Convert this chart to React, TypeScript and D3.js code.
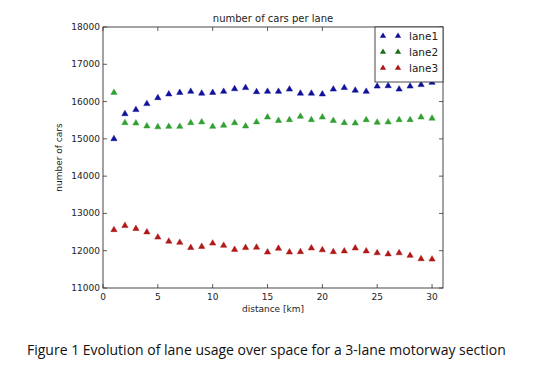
import React from "react";
import * as d3 from "d3";

const distances = d3.range(1, 31);
const lane1 = [15000, 15670, 15780, 15940, 16100, 16200, 16240, 16270, 16220, 16240, 16270, 16340, 16370, 16260, 16270, 16270, 16330, 16220, 16220, 16200, 16330, 16370, 16300, 16270, 16410, 16420, 16330, 16410, 16450, 16510];
const lane2 = [16240, 15430, 15420, 15340, 15320, 15330, 15330, 15430, 15450, 15330, 15360, 15430, 15340, 15450, 15580, 15490, 15510, 15600, 15510, 15580, 15490, 15430, 15420, 15510, 15440, 15450, 15510, 15510, 15580, 15550];
const lane3 = [12560, 12670, 12590, 12500, 12360, 12250, 12220, 12080, 12110, 12200, 12140, 12030, 12080, 12090, 11960, 12060, 11960, 11970, 12070, 12020, 11970, 11990, 12070, 11990, 11940, 11910, 11940, 11870, 11780, 11770];
const xTicks = [0, 5, 10, 15, 20, 25, 30];
const yTicks = [11000, 12000, 13000, 14000, 15000, 16000, 17000, 18000];
const seriesNames = ["lane1", "lane2", "lane3"];
const seriesColors = ["#10109a", "#30a030", "#b01818"];
const legendColors = ["#10109a", "#1e6e1e", "#b01818"];

export default function App() {
  const W = 548, H = 377;
  const left = 103, right = 443, top = 27, bottom = 288;
  const x = d3.scaleLinear().domain([0, 31]).range([left, right]);
  const y = d3.scaleLinear().domain([11000, 18000]).range([bottom, top]);
  const tri = d3.symbol().type(d3.symbolTriangle).size(17);
  const triPath = tri() as string;
  const series = [lane1, lane2, lane3];
  const font = "'DejaVu Sans', sans-serif";

  return (
    <svg width={W} height={H} style={{ position: "absolute", left: 0, top: 0, background: "#fff" }} fontFamily={font}>
      <rect x={0} y={0} width={W} height={H} fill="#fff" />
      {xTicks.map((t) => (
        <g key={"xt" + t}>
          <line x1={x(t)} x2={x(t)} y1={bottom} y2={bottom - 4} stroke="#333" strokeWidth={0.8} />
          <line x1={x(t)} x2={x(t)} y1={top} y2={top + 4} stroke="#333" strokeWidth={0.8} />
          <text x={x(t)} y={bottom + 12} fontSize={9} textAnchor="middle" fill="#222">{t}</text>
        </g>
      ))}
      {yTicks.map((t) => (
        <g key={"yt" + t}>
          <line x1={left} x2={left + 4} y1={y(t)} y2={y(t)} stroke="#333" strokeWidth={0.8} />
          <line x1={right} x2={right - 4} y1={y(t)} y2={y(t)} stroke="#333" strokeWidth={0.8} />
          <text x={left - 3} y={y(t) + 3} fontSize={9} textAnchor="end" fill="#222">{t}</text>
        </g>
      ))}
      {series.map((s, i) => (
        <g key={"s" + i}>
          {s.map((v, j) => (
            <path key={j} d={triPath} transform={`translate(${x(distances[j])},${y(v)})`} fill={seriesColors[i]} stroke={seriesColors[i]} strokeWidth={0.5} />
          ))}
        </g>
      ))}
      <rect x={left} y={top} width={right - left} height={bottom - top} fill="none" stroke="#333" strokeWidth={0.9} />
      <rect x={375} y={top} width={right - 375} height={55} fill="#fff" stroke="#333" strokeWidth={0.9} />
      {seriesNames.map((n, i) => (
        <g key={"l" + i}>
          <path d={triPath} transform={`translate(383,${36 + i * 16})`} fill={legendColors[i]} />
          <path d={triPath} transform={`translate(398,${36 + i * 16})`} fill={legendColors[i]} />
          <text x={409} y={36 + i * 16 + 4} fontSize={10.5} fill="#222">{n}</text>
        </g>
      ))}
      <text x={(left + right) / 2} y={22} fontSize={10} textAnchor="middle" fill="#222">number of cars per lane</text>
      <text x={(left + right) / 2} y={312} fontSize={9} textAnchor="middle" fill="#222">distance [km]</text>
      <text transform={`translate(62,${(top + bottom) / 2}) rotate(-90)`} fontSize={9} textAnchor="middle" fill="#222">number of cars</text>
      <text x={27} y={355} fontSize={14} fontFamily="'Open Sans', sans-serif" fill="#111">Figure 1 Evolution of lane usage over space for a 3-lane motorway section</text>
    </svg>
  );
}
